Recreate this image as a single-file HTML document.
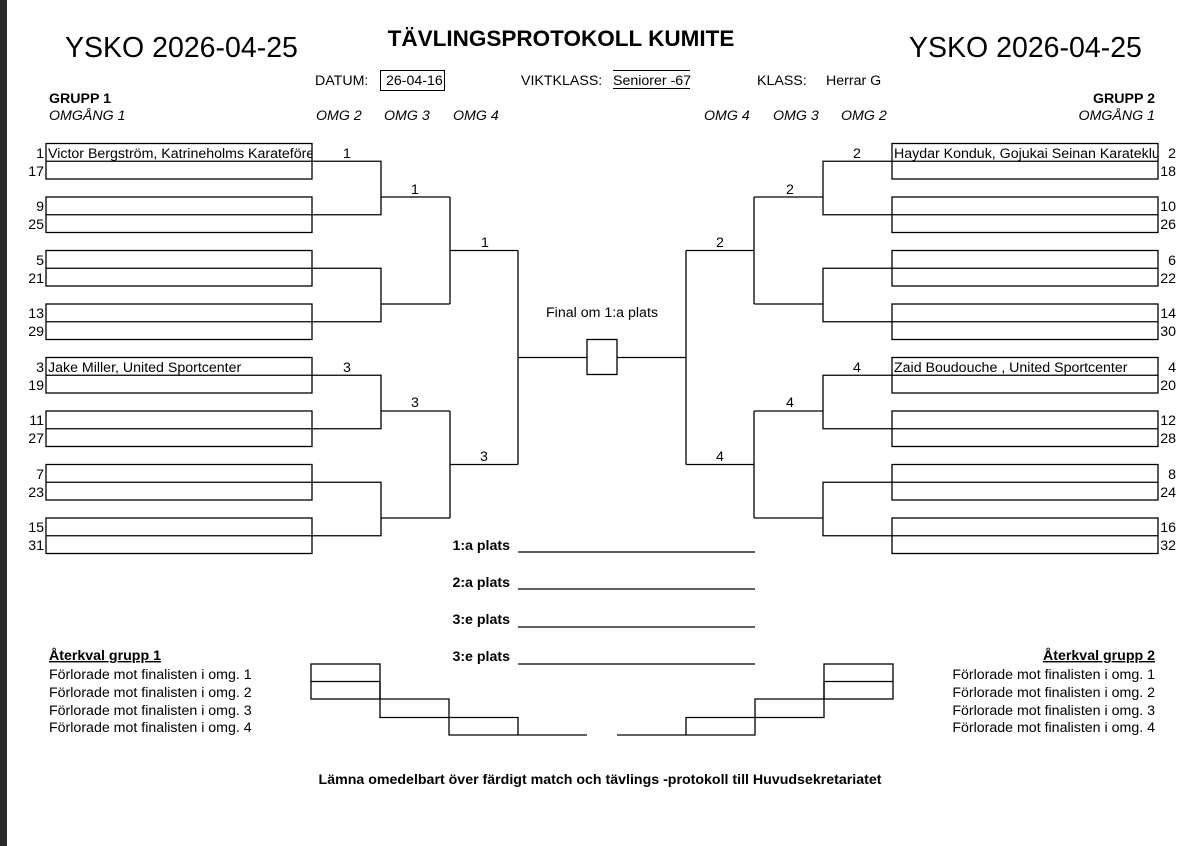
<!DOCTYPE html>
<html><head><meta charset="utf-8"><style>
html,body{margin:0;padding:0;background:#fff;}
svg{display:block;}
text{font-family:"Liberation Sans",Arial,sans-serif;font-size:14.2px;fill:#000;}
.b{font-weight:bold;}
.i{font-style:italic;}
</style></head><body>
<svg width="1200" height="846" viewBox="0 0 1200 846" xmlns="http://www.w3.org/2000/svg">
<rect x="0" y="0" width="1200" height="846" fill="#fff"/>
<rect x="0" y="0" width="7" height="846" fill="#2a2a2a"/>

<text x="65" y="57" style="font-size:28.5px">YSKO 2026-04-25</text>
<text x="909" y="57" style="font-size:28.5px">YSKO 2026-04-25</text>
<text x="561" y="46" class="b" text-anchor="middle" style="font-size:22.5px">TÄVLINGSPROTOKOLL KUMITE</text>
<text x="315" y="85">DATUM:</text>
<rect x="380.5" y="70.5" width="64" height="20" fill="none" stroke="#000" stroke-width="1"/>
<text x="386" y="85">26-04-16</text>
<text x="521" y="85">VIKTKLASS:</text>
<text x="613" y="85">Seniorer -67</text>
<line x1="613" y1="70.5" x2="690" y2="70.5" stroke="#000"/>
<line x1="613" y1="88.5" x2="690" y2="88.5" stroke="#000"/>
<text x="757" y="85">KLASS:</text>
<text x="826" y="85">Herrar G</text>
<text x="49" y="103" class="b">GRUPP 1</text>
<text x="49" y="120" class="i">OMGÅNG 1</text>
<text x="1155" y="103" class="b" text-anchor="end">GRUPP 2</text>
<text x="1155" y="120" class="i" text-anchor="end">OMGÅNG 1</text>
<text x="316" y="120" class="i">OMG 2</text>
<text x="384" y="120" class="i">OMG 3</text>
<text x="453" y="120" class="i">OMG 4</text>
<text x="704" y="120" class="i">OMG 4</text>
<text x="773" y="120" class="i">OMG 3</text>
<text x="841" y="120" class="i">OMG 2</text>

<g fill="none" stroke="#000" stroke-width="1.3">
  <rect x="46" y="143.5" width="266" height="35.5"/><line x1="46" y1="161.25" x2="312" y2="161.25"/>
  <rect x="46" y="197" width="266" height="35.5"/><line x1="46" y1="214.75" x2="312" y2="214.75"/>
  <rect x="46" y="250.5" width="266" height="35.5"/><line x1="46" y1="268.25" x2="312" y2="268.25"/>
  <rect x="46" y="304" width="266" height="35.5"/><line x1="46" y1="321.75" x2="312" y2="321.75"/>
  <rect x="46" y="357.5" width="266" height="35.5"/><line x1="46" y1="375.25" x2="312" y2="375.25"/>
  <rect x="46" y="411" width="266" height="35.5"/><line x1="46" y1="428.75" x2="312" y2="428.75"/>
  <rect x="46" y="464.5" width="266" height="35.5"/><line x1="46" y1="482.25" x2="312" y2="482.25"/>
  <rect x="46" y="518" width="266" height="35.5"/><line x1="46" y1="535.75" x2="312" y2="535.75"/>
  <path d="M312 161.25H381V214.75H312M381 197H450"/>
  <path d="M312 268.25H381V321.75H312M381 304H450"/>
  <path d="M312 375.25H381V428.75H312M381 411H450"/>
  <path d="M312 482.25H381V535.75H312M381 518H450"/>
  <path d="M450 197V304M450 250.5H518"/>
  <path d="M450 411V518M450 464.5H518"/>
  <path d="M518 250.5V464.5M518 357.5H587"/>
  <rect x="311" y="664" width="69" height="35"/>
  <line x1="311" y1="681.5" x2="380" y2="681.5"/>
  <path d="M380 699H449V735H587"/>
  <path d="M380 681.5V717.5H518V735"/>
</g>
<g fill="none" stroke="#000" stroke-width="1.3" transform="translate(1204,0) scale(-1,1)">
  <rect x="46" y="143.5" width="266" height="35.5"/><line x1="46" y1="161.25" x2="312" y2="161.25"/>
  <rect x="46" y="197" width="266" height="35.5"/><line x1="46" y1="214.75" x2="312" y2="214.75"/>
  <rect x="46" y="250.5" width="266" height="35.5"/><line x1="46" y1="268.25" x2="312" y2="268.25"/>
  <rect x="46" y="304" width="266" height="35.5"/><line x1="46" y1="321.75" x2="312" y2="321.75"/>
  <rect x="46" y="357.5" width="266" height="35.5"/><line x1="46" y1="375.25" x2="312" y2="375.25"/>
  <rect x="46" y="411" width="266" height="35.5"/><line x1="46" y1="428.75" x2="312" y2="428.75"/>
  <rect x="46" y="464.5" width="266" height="35.5"/><line x1="46" y1="482.25" x2="312" y2="482.25"/>
  <rect x="46" y="518" width="266" height="35.5"/><line x1="46" y1="535.75" x2="312" y2="535.75"/>
  <path d="M312 161.25H381V214.75H312M381 197H450"/>
  <path d="M312 268.25H381V321.75H312M381 304H450"/>
  <path d="M312 375.25H381V428.75H312M381 411H450"/>
  <path d="M312 482.25H381V535.75H312M381 518H450"/>
  <path d="M450 197V304M450 250.5H518"/>
  <path d="M450 411V518M450 464.5H518"/>
  <path d="M518 250.5V464.5M518 357.5H587"/>
  <rect x="311" y="664" width="69" height="35"/>
  <line x1="311" y1="681.5" x2="380" y2="681.5"/>
  <path d="M380 699H449V735H587"/>
  <path d="M380 681.5V717.5H518V735"/>
</g>
<rect x="587" y="339.5" width="30" height="35" fill="none" stroke="#000" stroke-width="1.3"/>
<text x="602" y="317" text-anchor="middle">Final om 1:a plats</text>

<g text-anchor="end">
<text x="44" y="158">1</text><text x="44" y="176">17</text>
<text x="44" y="211">9</text><text x="44" y="229">25</text>
<text x="44" y="265">5</text><text x="44" y="283">21</text>
<text x="44" y="318">13</text><text x="44" y="336">29</text>
<text x="44" y="372">3</text><text x="44" y="390">19</text>
<text x="44" y="425">11</text><text x="44" y="443">27</text>
<text x="44" y="479">7</text><text x="44" y="497">23</text>
<text x="44" y="532">15</text><text x="44" y="550">31</text>
</g>
<g text-anchor="end">
<text x="1176" y="158">2</text><text x="1176" y="176">18</text>
<text x="1176" y="211">10</text><text x="1176" y="229">26</text>
<text x="1176" y="265">6</text><text x="1176" y="283">22</text>
<text x="1176" y="318">14</text><text x="1176" y="336">30</text>
<text x="1176" y="372">4</text><text x="1176" y="390">20</text>
<text x="1176" y="425">12</text><text x="1176" y="443">28</text>
<text x="1176" y="479">8</text><text x="1176" y="497">24</text>
<text x="1176" y="532">16</text><text x="1176" y="550">32</text>
</g>
<svg x="46" y="143" width="266" height="20"><text x="2" y="15">Victor Bergström, Katrineholms Karateförening</text></svg>
<svg x="46" y="357" width="266" height="20"><text x="2" y="15">Jake Miller, United Sportcenter</text></svg>
<svg x="892" y="143" width="266" height="20"><text x="2" y="15">Haydar Konduk, Gojukai Seinan Karateklubb</text></svg>
<svg x="892" y="357" width="266" height="20"><text x="2" y="15">Zaid Boudouche , United Sportcenter</text></svg>

<text x="347" y="158" text-anchor="middle">1</text>
<text x="415" y="194" text-anchor="middle">1</text>
<text x="485" y="247" text-anchor="middle">1</text>
<text x="347" y="372" text-anchor="middle">3</text>
<text x="415" y="407" text-anchor="middle">3</text>
<text x="484" y="461" text-anchor="middle">3</text>
<text x="857" y="158" text-anchor="middle">2</text>
<text x="790" y="194" text-anchor="middle">2</text>
<text x="720" y="247" text-anchor="middle">2</text>
<text x="857" y="372" text-anchor="middle">4</text>
<text x="790" y="407" text-anchor="middle">4</text>
<text x="720" y="461" text-anchor="middle">4</text>

<g text-anchor="end">
<text x="510" y="550" class="b">1:a plats</text>
<text x="510" y="587" class="b">2:a plats</text>
<text x="510" y="624" class="b">3:e plats</text>
<text x="510" y="661" class="b">3:e plats</text>
</g>
<g stroke="#000" stroke-width="1.3">
<line x1="518" y1="552" x2="755" y2="552"/>
<line x1="518" y1="589" x2="755" y2="589"/>
<line x1="518" y1="627" x2="755" y2="627"/>
<line x1="518" y1="664" x2="755" y2="664"/>
</g>

<text x="49" y="660" class="b" text-decoration="underline">Återkval grupp 1</text>
<text x="49" y="679">Förlorade mot finalisten i omg. 1</text>
<text x="49" y="697">Förlorade mot finalisten i omg. 2</text>
<text x="49" y="715">Förlorade mot finalisten i omg. 3</text>
<text x="49" y="732">Förlorade mot finalisten i omg. 4</text>
<text x="1155" y="660" class="b" text-anchor="end" text-decoration="underline">Återkval grupp 2</text>
<text x="1155" y="679" text-anchor="end">Förlorade mot finalisten i omg. 1</text>
<text x="1155" y="697" text-anchor="end">Förlorade mot finalisten i omg. 2</text>
<text x="1155" y="715" text-anchor="end">Förlorade mot finalisten i omg. 3</text>
<text x="1155" y="732" text-anchor="end">Förlorade mot finalisten i omg. 4</text>

<text x="600" y="784" class="b" text-anchor="middle">Lämna omedelbart över färdigt match och tävlings -protokoll till Huvudsekretariatet</text>
</svg>
</body></html>
